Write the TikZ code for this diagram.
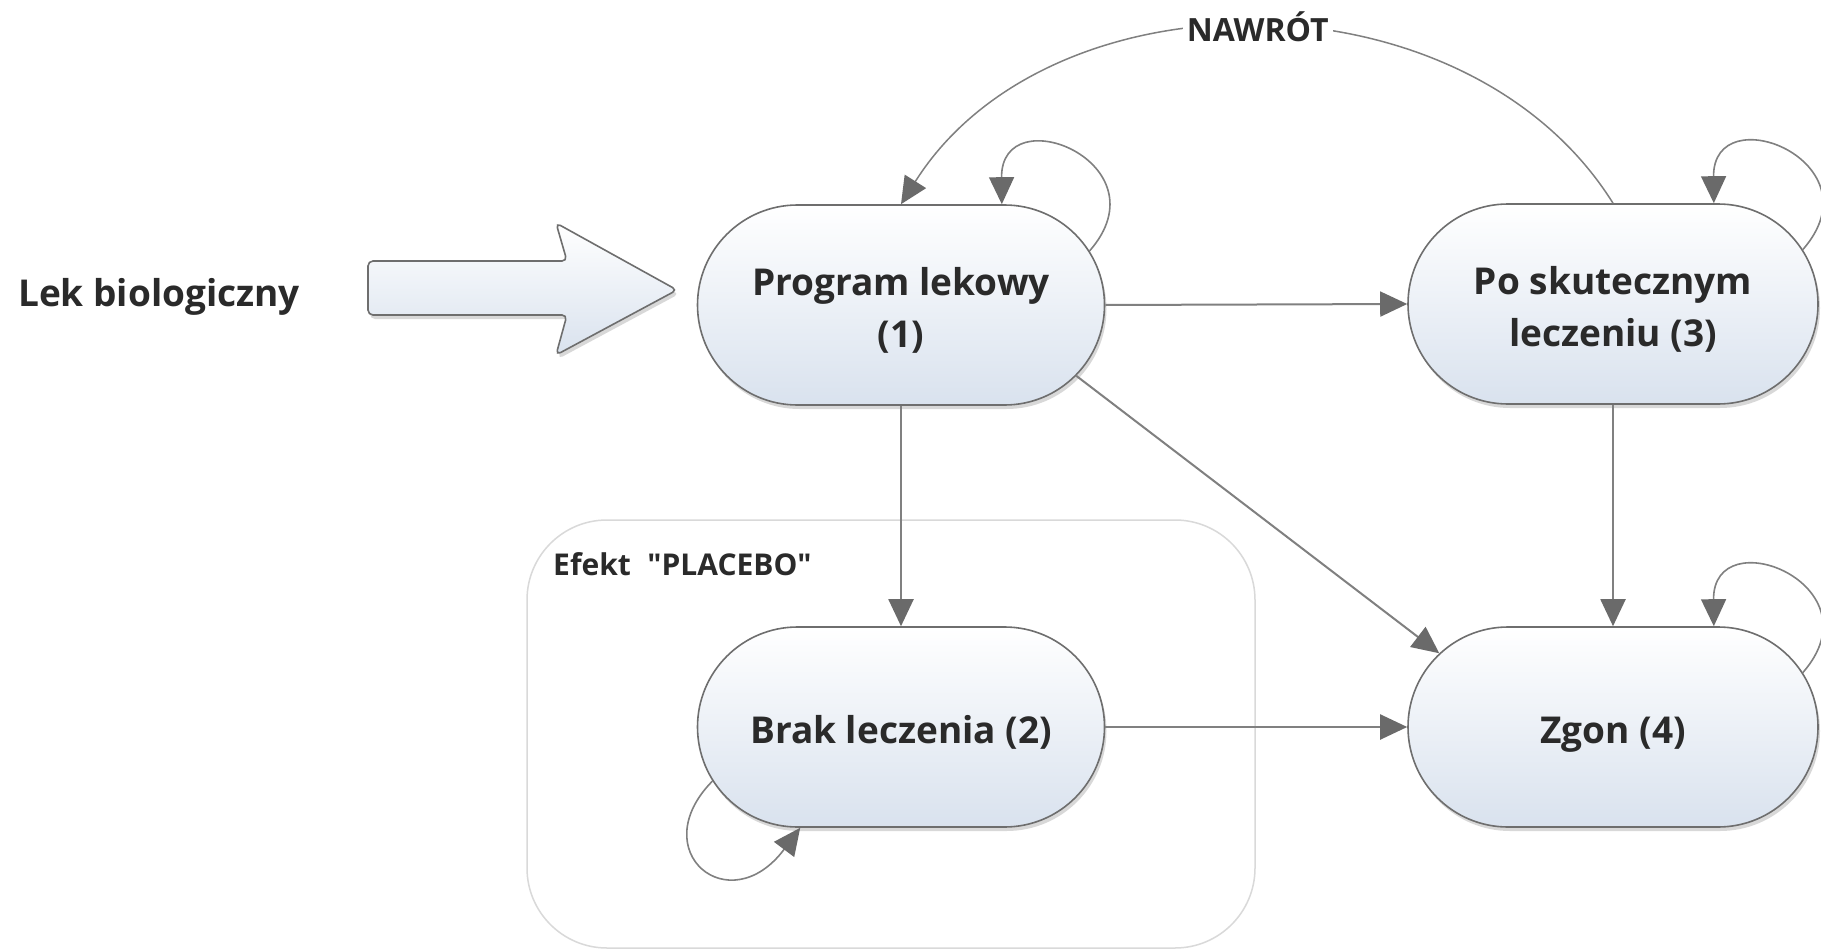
\documentclass[tikz,border=0pt]{standalone}
\usepackage{fontspec}
\usepackage{graphicx}
\setmainfont{Open Sans}
\usetikzlibrary{shapes.misc,arrows.meta,shadows}
\definecolor{edgegray}{HTML}{808080}
\definecolor{headgray}{HTML}{6A6A6A}
\definecolor{bordergray}{HTML}{6E6E6E}
\definecolor{nodeblue}{HTML}{D9E2EE}
\definecolor{boxgray}{HTML}{D9D9D9}
\definecolor{txt}{HTML}{2A2A2A}
\newcommand{\statetext}[1]{\raisebox{-6pt}[\height][\depth]{\begin{tabular}{@{}c@{}}#1\end{tabular}}}
\begin{document}
\begin{tikzpicture}[x=1pt,y=-1pt,
  state/.style={rounded rectangle, minimum width=407pt, minimum height=200pt,
    draw=bordergray, line width=1.6pt, top color=white, bottom color=nodeblue,
    drop shadow={shadow xshift=2pt,shadow yshift=-4pt,opacity=0.3},
    font=\fontsize{37}{52}\selectfont\bfseries, text=txt, inner sep=0pt},
  conn/.style={draw=edgegray, line width=2pt,
    -{Triangle[length=27pt,width=25pt,color=headgray,fill=headgray]}},
  loopconn/.style={conn, line width=1.6pt},
  plain/.style={inner sep=0pt, text=txt, anchor=base west},
]
\useasboundingbox (0,0) rectangle (1821,950);
\fill[white] (0,0) rectangle (1821,950);
\clip (0,0) rectangle (1821,950);

% placebo frame
\draw[boxgray, line width=1.5pt, rounded corners=80pt] (527,520) rectangle (1255,948);
\node[plain, font=\fontsize{30}{36}\selectfont\bfseries] (placebo) at (553,575)
  {Efekt\hspace{0.55em}\textquotedbl PLACEBO\textquotedbl};

% input label and big arrow
\node[plain, font=\fontsize{37}{44}\selectfont\bfseries] (lek) at (18,306) {Lek biologiczny};
\draw[draw=bordergray, line width=1.6pt, top color=white, bottom color=nodeblue,
      rounded corners=5pt, drop shadow={shadow xshift=2pt,shadow yshift=-4pt,opacity=0.3}]
  (368,261) -- (567,261) -- (556,223) -- (677,290) -- (556,355) -- (567,315) -- (368,315) -- cycle;

% states
\node[state] (n1) at (901,305) {\statetext{Program lekowy\\(1)}};
\node[state] (n2) at (901,727) {\statetext{Brak leczenia (2)}};
\node[state, minimum width=410pt] (n3) at (1613,304) {\statetext{Po skutecznym\\leczeniu (3)}};
\node[state, minimum width=410pt] (n4) at (1613,727) {\statetext{Zgon (4)}};

% transitions
\draw[conn] (n1.east) -- (n3.west);
\draw[conn] (n1.south) -- (n2.north);
\draw[conn] (n1.-22) -- (n4.157);
\draw[conn] (n3.south) -- (n4.north);
\draw[conn] (n2.east) -- (n4.west);
\draw[conn, line width=1.5pt] (n3.north) .. controls (1466,-32) and (1050,-32) .. (n1.north)
  node[pos=0.5, fill=white, inner sep=4pt, text=txt, font=\fontsize{32}{36}\selectfont\bfseries] (nawrot) {NAWRÓT};

% self loops
\draw[loopconn] (n1.16) .. controls +(77,-88) and +(-1,-108) .. (n1.45);
\draw[loopconn] (n3.16) .. controls +(77,-88) and +(-1,-108) .. (n3.45);
\draw[loopconn] (n4.16) .. controls +(77,-88) and +(-1,-108) .. (n4.45);
\draw[loopconn] (n2.196) .. controls +(-69,70) and +(-71,95) .. (n2.225);
\end{tikzpicture}
\end{document}
